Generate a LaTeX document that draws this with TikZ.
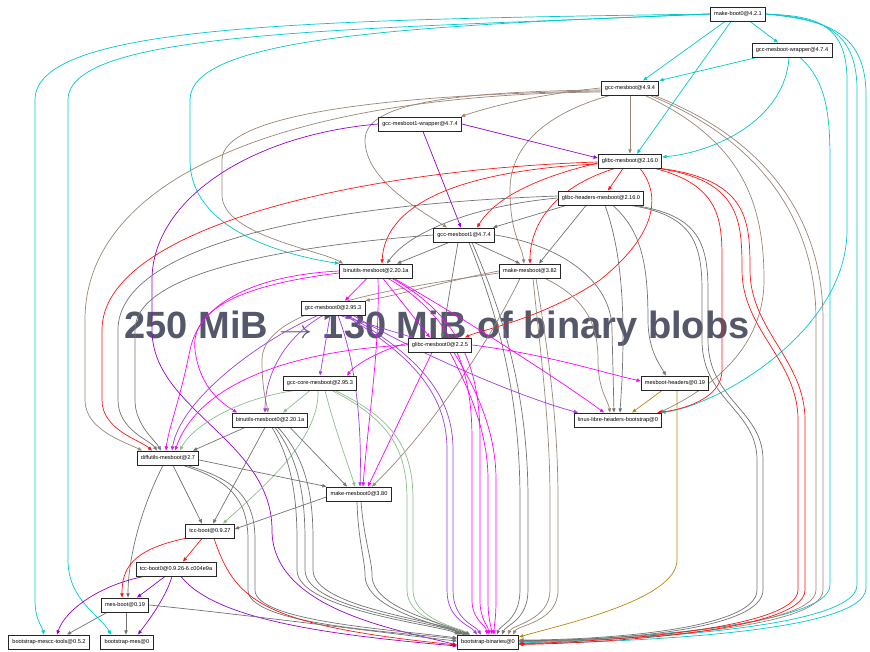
\documentclass[tikz,border=0pt]{standalone}
\usepackage{fontspec}
\usetikzlibrary{arrows.meta}
\newfontfamily\pkgfont{Liberation Sans}
\newfontfamily\blobfont{Liberation Sans}
\definecolor{cyanE}{RGB}{0,200,204}
\definecolor{brownE}{RGB}{155,133,118}
\definecolor{violetA}{RGB}{148,0,211}
\definecolor{violetB}{RGB}{160,60,225}
\definecolor{redE}{RGB}{255,20,20}
\definecolor{greyE}{RGB}{115,115,115}
\definecolor{magE}{RGB}{255,0,255}
\definecolor{greenE}{RGB}{143,188,143}
\definecolor{goldE}{RGB}{184,134,11}
\definecolor{slate}{RGB}{84,88,106}
\pgfdeclarelayer{blobs}
\pgfdeclarelayer{edges}
\pgfsetlayers{blobs,edges,main}
\tikzset{
  pkg/.style={draw=black!85, line width=0.9pt, fill=white, inner xsep=3.8pt, inner ysep=0pt,
    minimum height=14pt, font=\pkgfont\fontsize{5.6}{6}\selectfont},
  dep/.style={line width=0.7pt, -{Triangle[length=4.2pt,width=3.4pt]}},
  blob/.style={text=slate, inner sep=0pt, font=\blobfont\bfseries\fontsize{38}{42}\selectfont}
}
\begin{document}
\begin{tikzpicture}[x=1pt,y=-1pt]
  \useasboundingbox (0,0) rectangle (870,651);

  % packages
  \node[pkg] (mb0) at (738,14) {make-boot0@4.2.1};
  \node[pkg] (gmw) at (792,50) {gcc-mesboot-wrapper@4.7.4};
  \node[pkg] (gm) at (630,88) {gcc-mesboot@4.9.4};
  \node[pkg] (g1w) at (420,124) {gcc-mesboot1-wrapper@4.7.4};
  \node[pkg] (glm) at (630,161) {glibc-mesboot@2.16.0};
  \node[pkg] (glh) at (601,198) {glibc-headers-mesboot@2.16.0};
  \node[pkg] (g1) at (464,235) {gcc-mesboot1@4.7.4};
  \node[pkg] (bm) at (376,271) {binutils-mesboot@2.20.1a};
  \node[pkg] (mm) at (530,271) {make-mesboot@3.82};
  \node[pkg] (g0) at (333,308) {gcc-mesboot0@2.95.3};
  \node[pkg] (gl0) at (440,345) {glibc-mesboot0@2.2.5};
  \node[pkg] (gcm) at (320,383) {gcc-core-mesboot@2.95.3};
  \node[pkg] (mh) at (675,383) {mesboot-headers@0.19};
  \node[pkg] (bm0) at (270,420) {binutils-mesboot0@2.20.1a};
  \node[pkg] (llh) at (618,420) {linux-libre-headers-bootstrap@0};
  \node[pkg] (dm) at (168,458) {diffutils-mesboot@2.7};
  \node[pkg] (mm0) at (359,494) {make-mesboot0@3.80};
  \node[pkg] (tcc) at (210,531) {tcc-boot@0.9.27};
  \node[pkg] (tcc0) at (176,569) {tcc-boot0@0.9.26-6.c004e9a};
  \node[pkg] (mes) at (125,605) {mes-boot@0.19};
  \node[pkg] (bmt) at (49,642) {bootstrap-mescc-tools@0.5.2};
  \node[pkg] (bmes) at (127,642) {bootstrap-mes@0};
  \node[pkg] (bb) at (488,642) {bootstrap-binaries@0};

  \begin{pgfonlayer}{blobs}
    \node[blob, anchor=base] (blobs) at (437,338)
      {250 MiB \scalebox{1.35}[1]{$\rightarrow$} 130 MiB of binary blobs};
  \end{pgfonlayer}

  \begin{pgfonlayer}{edges}
    % make-boot0
    \draw[dep,cyanE] ([xshift=12]mb0.south) -- ([xshift=-14]gmw.north);
    \draw[dep,cyanE] ([xshift=-13]mb0.south) -- ([xshift=13]gm.north);
    \draw[dep,cyanE] ([xshift=-7]mb0.south) -- ([xshift=7]glm.north);
    \draw[dep,cyanE] (mb0.west) .. controls (400,26) and (190,38) .. (190,100) -- (190,160)
      .. controls (190,232) and (290,256) .. (bm.north west);
    \draw[dep,cyanE] (mb0.west) .. controls (300,20) and (35,25) .. (35,100) -- (35,600)
      .. controls (35,620) and (42,626) .. ([xshift=-5]bmt.north);
    \draw[dep,cyanE] (mb0.west) .. controls (350,30) and (68,30) .. (68,100) -- (68,560)
      .. controls (68,600) and (100,615) .. ([xshift=-16]bmes.north);
    \draw[dep,cyanE] (mb0.east) .. controls (810,16) and (847,20) .. (847,80) -- (847,230)
      .. controls (847,330) and (720,405) .. ([xshift=-1]llh.north east);
    \draw[dep,cyanE] (mb0.east) .. controls (815,18) and (857,25) .. (857,90) -- (857,585)
      .. controls (857,632) and (600,640) .. ([yshift=-1]bb.east);
    \draw[dep,cyanE] (mb0.east) .. controls (820,20) and (866,28) .. (866,95) -- (866,588)
      .. controls (866,636) and (600,642) .. ([yshift=-2]bb.east);
    % gcc-mesboot-wrapper
    \draw[dep,cyanE] ([xshift=-35]gmw.south) -- (gm.north east);
    \draw[dep,cyanE] ([xshift=-3]gmw.south) .. controls (785,120) and (715,152) .. ([yshift=4]glm.east);
    \draw[dep,cyanE] ([xshift=8]gmw.south) .. controls (825,80) and (830,110) .. (830,160) -- (830,585)
      .. controls (830,628) and (600,640) .. (bb.east);

    % gcc-mesboot
    \draw[dep,brownE] (gm.south) -- (glm.north);
    \draw[dep,brownE] (gm.west) .. controls (530,95) and (480,110) .. ([xshift=-1]g1w.north east);
    \draw[dep,brownE] ([yshift=-2]gm.west) .. controls (420,92) and (365,110) .. (365,140)
      .. controls (365,180) and (420,210) .. ([xshift=-17]g1.north);
    \draw[dep,brownE] ([yshift=-3]gm.west) .. controls (380,95) and (222,115) .. (222,160) -- (222,195)
      .. controls (222,235) and (320,250) .. ([xshift=-33]bm.north);
    \draw[dep,brownE] ([yshift=-4]gm.west) .. controls (280,95) and (85,180) .. (85,320) -- (85,400)
      .. controls (85,430) and (125,442) .. ([xshift=-26]dm.north);
    \draw[dep,brownE] ([xshift=-20]gm.south) .. controls (540,115) and (510,150) .. (510,190)
      .. controls (510,235) and (522,245) .. ([xshift=-6]mm.north);
    \draw[dep,brownE] ([xshift=15]gm.south) .. controls (740,140) and (764,200) .. (764,280)
      .. controls (764,360) and (690,398) .. ([xshift=-3]llh.north east);
    \draw[dep,brownE] ([xshift=20]gm.south) .. controls (760,140) and (816,220) .. (816,320) -- (816,590)
      .. controls (816,630) and (600,640) .. ([yshift=1]bb.east);
    \draw[dep,brownE] ([xshift=24]gm.south) .. controls (768,140) and (823,220) .. (823,320) -- (823,590)
      .. controls (823,632) and (600,641) .. ([yshift=0.5]bb.east);

    % gcc-mesboot1-wrapper
    \draw[dep,violetA] (g1w.east) -- ([yshift=3]glm.west);
    \draw[dep,violetA] ([xshift=3]g1w.south) -- ([xshift=-3]g1.north);
    \draw[dep,violetA] (g1w.west) .. controls (250,135) and (152,200) .. (152,280) -- (152,330)
      .. controls (152,410) and (272,440) .. (272,530) .. controls (272,610) and (400,630) .. ([yshift=-3]bb.west);

    % glibc-mesboot
    \draw[dep,redE] ([xshift=-7]glm.south) -- ([xshift=7]glh.north);
    \draw[dep,redE] ([yshift=-2]glm.west) .. controls (560,172) and (500,190) .. ([xshift=13]g1.north);
    \draw[dep,redE] ([yshift=-3]glm.west) .. controls (470,170) and (385,200) .. ([xshift=6]bm.north);
    \draw[dep,redE] ([xshift=-15]glm.south) .. controls (560,185) and (530,220) .. (mm.north);
    \draw[dep,redE] ([xshift=10]glm.south) .. controls (665,200) and (650,240) .. (600,280)
      .. controls (540,320) and (480,330) .. ([xshift=25]gl0.north);
    \draw[dep,redE] ([yshift=-1]glm.west) .. controls (350,170) and (102,230) .. (102,330) -- (102,400)
      .. controls (102,430) and (140,440) .. ([xshift=-16]dm.north);
    \draw[dep,redE] ([xshift=25]glm.south) .. controls (720,185) and (722,220) .. (722,260) -- (722,370)
      .. controls (722,400) and (680,410) .. ([xshift=-5]llh.north east);
    \draw[dep,redE] ([xshift=28]glm.south) .. controls (740,180) and (742,220) .. (742,270)
      .. controls (742,330) and (798,360) .. (798,420) -- (798,590) .. controls (798,630) and (600,642) .. ([yshift=-1.5]bb.east);
    \draw[dep,redE] ([xshift=31]glm.south) .. controls (748,180) and (750,220) .. (750,270)
      .. controls (750,330) and (805,360) .. (805,420) -- (805,590) .. controls (805,632) and (600,643) .. ([yshift=-2.5]bb.east);

    % glibc-headers-mesboot
    \draw[dep,greyE] ([xshift=-35]glh.south) -- ([xshift=-2]g1.north east);
    \draw[dep,greyE] (glh.west) .. controls (480,205) and (410,230) .. ([xshift=11]bm.north);
    \draw[dep,greyE] ([xshift=-15]glh.south) -- ([xshift=9]mm.north);
    \draw[dep,greyE] ([yshift=2]glh.west) .. controls (300,205) and (118,250) .. (118,330) -- (118,400)
      .. controls (118,430) and (150,440) .. ([xshift=-11]dm.north);
    \draw[dep,greyE] ([xshift=12]glh.south) .. controls (640,230) and (648,260) .. (648,320)
      .. controls (648,350) and (660,365) .. ([xshift=-9]mh.north);
    \draw[dep,greyE] ([xshift=4]glh.south) .. controls (625,260) and (624,330) .. (622,380) -- ([xshift=2]llh.north);
    \draw[dep,greyE] ([xshift=30]glh.south) .. controls (690,215) and (702,240) .. (702,290) -- (702,340)
      .. controls (702,400) and (757,410) .. (757,460) -- (757,590) .. controls (757,630) and (600,640) .. ([yshift=2]bb.east);
    \draw[dep,greyE] ([xshift=34]glh.south) .. controls (696,215) and (708,240) .. (708,290) -- (708,340)
      .. controls (708,400) and (763,410) .. (763,460) -- (763,590) .. controls (763,632) and (600,641) .. ([yshift=1.5]bb.east);

    % gcc-mesboot1
    \draw[dep,greyE] ([xshift=-15]g1.south) -- ([xshift=21]bm.north);
    \draw[dep,greyE] ([xshift=10]g1.south) -- ([xshift=-10]mm.north);
    \draw[dep,greyE] (g1.west) .. controls (300,245) and (135,270) .. (135,330) -- (135,400)
      .. controls (135,425) and (155,440) .. ([xshift=-7]dm.north);
    \draw[dep,greyE] (g1.east) .. controls (560,245) and (612,280) .. (612,330) -- ([xshift=-4]llh.north);
    \draw[dep,greyE] ([xshift=-6]g1.south) -- ([xshift=2]gl0.north);
    \draw[dep,greyE] ([xshift=5]g1.south) .. controls (500,320) and (520,400) .. (520,500) -- (520,590)
      .. controls (520,620) and (500,625) .. ([xshift=9]bb.north);
    \draw[dep,greyE] ([xshift=8]g1.south) .. controls (506,320) and (528,400) .. (528,500) -- (528,590)
      .. controls (528,620) and (506,625) .. ([xshift=14]bb.north);

    % make-mesboot
    \draw[dep,brownE] (mm.west) .. controls (450,280) and (400,295) .. (g0.north east);
    \draw[dep,brownE] ([yshift=-2]mm.west) .. controls (380,290) and (262,310) .. (262,360)
      .. controls (262,390) and (266,400) .. ([xshift=-2]bm0.north);
    \draw[dep,brownE] ([xshift=-10]mm.south) .. controls (480,360) and (420,440) .. ([xshift=13]mm0.north);
    \draw[dep,brownE] ([xshift=15]mm.south) .. controls (590,300) and (598,330) .. (598,360)
      .. controls (598,390) and (608,400) .. ([xshift=-8]llh.north);
    \draw[dep,brownE] ([xshift=3]mm.south) .. controls (540,350) and (550,420) .. (550,500) -- (550,590)
      .. controls (550,620) and (512,625) .. ([xshift=20]bb.north);
    \draw[dep,brownE] ([xshift=6]mm.south) .. controls (548,350) and (558,420) .. (558,500) -- (558,590)
      .. controls (558,622) and (518,625) .. ([xshift=25]bb.north);

    % binutils-mesboot
    \draw[dep,magE] ([xshift=-9]bm.south) -- ([xshift=12]g0.north);
    \draw[dep,magE] ([xshift=7]bm.south) -- ([xshift=-10]gl0.north);
    \draw[dep,magE] (bm.west) .. controls (260,275) and (200,300) .. (190,350)
      .. controls (180,400) and (168,430) .. ([xshift=-2]dm.north);
    \draw[dep,magE] ([yshift=-2]bm.west) .. controls (240,285) and (190,310) .. (195,350)
      .. controls (200,390) and (225,405) .. ([xshift=-33]bm0.north);
    \draw[dep,magE] ([xshift=2]bm.south) .. controls (380,350) and (368,420) .. ([xshift=4]mm0.north);
    \draw[dep,magE] ([xshift=18]bm.south) .. controls (450,310) and (560,380) .. ([xshift=-14]llh.north);
    \draw[dep,magE] ([xshift=12]bm.south) .. controls (460,320) and (472,380) .. (472,440) -- (472,600)
      .. controls (472,620) and (486,625) .. ([xshift=-1]bb.north);
    \draw[dep,magE] ([xshift=16]bm.south) .. controls (468,320) and (480,380) .. (480,440) -- (480,600)
      .. controls (480,620) and (488,625) .. ([xshift=1]bb.north);

    % gcc-mesboot0
    \draw[dep,violetB] ([xshift=-3]g0.south) -- (gcm.north);
    \draw[dep,violetB] ([xshift=-15]g0.south) .. controls (260,340) and (180,400) .. ([xshift=4]dm.north);
    \draw[dep,violetB] ([xshift=-10]g0.south) .. controls (280,340) and (265,380) .. ([xshift=-5]bm0.north);
    \draw[dep,violetB] ([xshift=5]g0.south) .. controls (355,360) and (362,420) .. ([xshift=1]mm0.north);
    \draw[dep,violetB] ([xshift=7]g0.south) -- ([xshift=-27]gl0.north);
    \draw[dep,violetB] ([xshift=20]g0.south) .. controls (430,360) and (530,400) .. ([xshift=-40]llh.north);
    \draw[dep,violetB] ([xshift=12]g0.south) .. controls (420,360) and (447,400) .. (447,450) -- (447,590)
      .. controls (447,620) and (470,625) .. ([xshift=-11]bb.north);
    \draw[dep,violetB] ([xshift=15]g0.south) .. controls (426,360) and (453,400) .. (453,450) -- (453,590)
      .. controls (453,620) and (475,625) .. ([xshift=-7]bb.north);

    % glibc-mesboot0
    \draw[dep,magE] ([yshift=2]gl0.west) .. controls (380,350) and (355,365) .. ([xshift=27]gcm.north);
    \draw[dep,magE] (gl0.west) .. controls (300,350) and (200,380) .. ([xshift=7]dm.north);
    \draw[dep,magE] ([xshift=-8]gl0.south) -- ([xshift=9]mm0.north);
    \draw[dep,magE] (gl0.east) .. controls (550,355) and (600,372) .. ([yshift=2]mh.west);
    \draw[dep,magE] ([xshift=10]gl0.south) .. controls (475,400) and (488,440) .. (488,480) -- (488,600)
      .. controls (488,620) and (491,625) .. ([xshift=4]bb.north);
    \draw[dep,magE] ([xshift=14]gl0.south) .. controls (483,400) and (496,440) .. (496,480) -- (496,600)
      .. controls (496,620) and (494,625) .. ([xshift=6]bb.north);

    % gcc-core-mesboot
    \draw[dep,greenE] ([xshift=-10]gcm.south) -- ([xshift=13]bm0.north);
    \draw[dep,greenE] ([xshift=-25]gcm.south) .. controls (230,400) and (190,430) .. ([xshift=12]dm.north);
    \draw[dep,greenE] ([xshift=5]gcm.south) .. controls (335,430) and (350,470) .. ([xshift=-4]mm0.north);
    \draw[dep,greenE] ([xshift=-2]gcm.south) .. controls (320,440) and (260,490) .. ([xshift=13]tcc.north);
    \draw[dep,greenE] ([xshift=12]gcm.south) .. controls (390,420) and (407,450) .. (407,500) -- (407,590)
      .. controls (407,620) and (455,628) .. ([xshift=-23]bb.north);
    \draw[dep,greenE] ([xshift=15]gcm.south) .. controls (396,420) and (413,450) .. (413,500) -- (413,590)
      .. controls (413,620) and (460,628) .. ([xshift=-18]bb.north);

    % mesboot-headers
    \draw[dep,goldE] ([xshift=-13]mh.south) -- ([xshift=14]llh.north);
    \draw[dep,goldE] ([xshift=2]mh.south) .. controls (677,420) and (677,500) .. (677,560)
      .. controls (677,600) and (560,625) .. ([yshift=5]bb.east);

    % binutils-mesboot0
    \draw[dep,greyE] ([xshift=-25]bm0.south) -- ([xshift=25]dm.north);
    \draw[dep,greyE] ([xshift=20]bm0.south) -- ([xshift=-12]mm0.north);
    \draw[dep,greyE] ([xshift=-5]bm0.south) -- ([xshift=3]tcc.north);
    \draw[dep,greyE] ([xshift=2]bm0.south) .. controls (292,460) and (297,500) .. (297,540) -- (297,570)
      .. controls (297,610) and (440,625) .. ([xshift=2]bb.north west);
    \draw[dep,greyE] ([xshift=5]bm0.south) .. controls (300,460) and (305,500) .. (305,540) -- (305,570)
      .. controls (305,610) and (440,622) .. ([xshift=4]bb.north west);
    \draw[dep,greyE] ([xshift=8]bm0.south) .. controls (308,460) and (313,500) .. (313,540) -- (313,570)
      .. controls (313,608) and (440,620) .. ([xshift=6]bb.north west);

    % diffutils-mesboot
    \draw[dep,greyE] ([yshift=-2]dm.east) -- (mm0.north west);
    \draw[dep,greyE] ([xshift=5]dm.south) -- ([xshift=-8]tcc.north);
    \draw[dep,greyE] ([xshift=-5]dm.south) .. controls (140,510) and (128,560) .. ([xshift=3]mes.north);
    \draw[dep,greyE] ([xshift=15]dm.south) .. controls (230,480) and (248,500) .. (248,540) -- (248,590)
      .. controls (248,625) and (400,632) .. ([yshift=3]bb.west);
    \draw[dep,greyE] ([xshift=19]dm.south) .. controls (238,480) and (255,500) .. (255,540) -- (255,590)
      .. controls (255,622) and (400,630) .. ([yshift=4]bb.west);

    % make-mesboot0
    \draw[dep,greyE] ([yshift=-3]mm0.west) -- ([yshift=2]tcc.east);
    \draw[dep,greyE] ([xshift=-2]mm0.south) .. controls (358,540) and (365,560) .. (365,575)
      .. controls (365,610) and (440,625) .. ([xshift=10]bb.north west);
    \draw[dep,greyE] ([xshift=2]mm0.south) .. controls (364,540) and (372,560) .. (372,575)
      .. controls (372,608) and (440,622) .. ([xshift=13]bb.north west);

    % tcc-boot
    \draw[dep,redE] ([xshift=-8]tcc.south) -- ([xshift=7]tcc0.north);
    \draw[dep,redE] (tcc.south west) .. controls (130,550) and (122,570) .. ([xshift=-3]mes.north);
    \draw[dep,redE] ([xshift=4]tcc.south) .. controls (235,600) and (260,625) .. ([yshift=-3]bb.west);

    % tcc-boot0
    \draw[dep,violetA] ([xshift=-11]tcc0.south) -- ([xshift=12]mes.north);
    \draw[dep,violetA] ([xshift=-32]tcc0.south) .. controls (100,585) and (65,610) .. ([xshift=8]bmt.north);
    \draw[dep,violetA] ([xshift=-4]tcc0.south) .. controls (165,600) and (145,625) .. ([xshift=11]bmes.north);
    \draw[dep,violetA] ([xshift=5]tcc0.south) .. controls (215,620) and (330,635) .. ([yshift=-4]bb.west);

    % mes-boot
    \draw[dep,greyE] ([xshift=-18]mes.south) -- ([xshift=18]bmt.north);
    \draw[dep,greyE] ([xshift=1]mes.south) -- ([xshift=-1]bmes.north);
    \draw[dep,greyE] (mes.east) .. controls (250,615) and (400,635) .. ([yshift=1]bb.west);
  \end{pgfonlayer}
\end{tikzpicture}
\end{document}
